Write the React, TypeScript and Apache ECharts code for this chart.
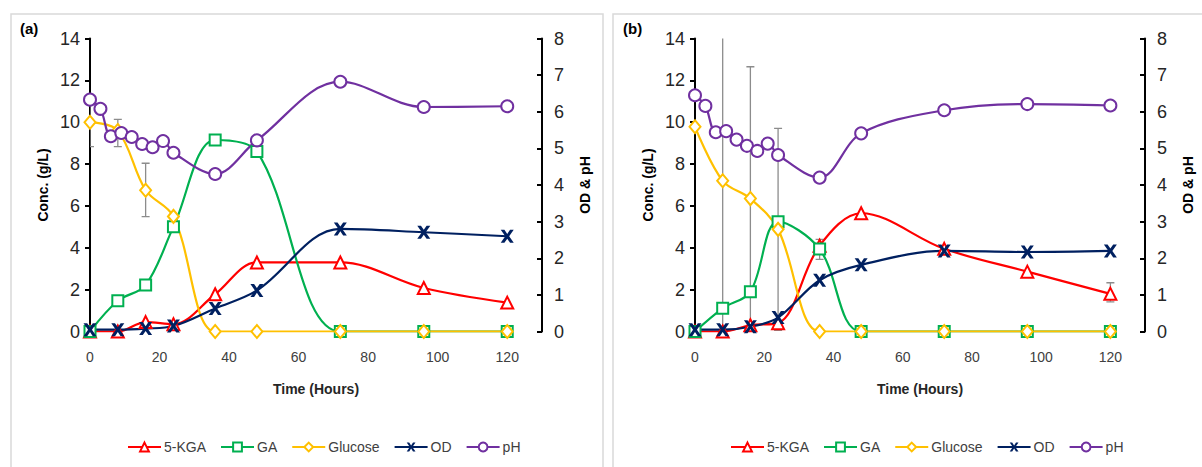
import React, { useEffect, useRef } from "react";
import * as echarts from "echarts";

// ---- data ----
const hours = [0, 8, 16, 24, 36, 48, 72, 96, 120];
const phHours = [0, 3, 6, 9, 12, 15, 18, 21, 24, 36, 48, 72, 96, 120];
const xTicks = [0, 20, 40, 60, 80, 100, 120];

// Panel (a)
const kgaA = [0, 0, 0.45, 0.35, 1.78, 3.3, 3.3, 2.08, 1.38];
const gaA = [0, 1.47, 2.22, 5.0, 9.15, 8.6, 0, 0, 0];
const gluA = [10.0, 9.6, 6.75, 5.5, 0, 0, 0, 0, 0];
const odA = [0.05, 0.05, 0.08, 0.15, 0.63, 1.12, 2.8, 2.71, 2.6];
const phA = [6.33, 6.08, 5.33, 5.42, 5.31, 5.12, 5.03, 5.2, 4.88, 4.3, 5.22, 6.82, 6.13, 6.15];
const errA = [
  [0, 8.83, 11.17],
  [8, 8.83, 10.14],
  [16, 5.49, 8.04],
];

// Panel (b)
const kgaB = [0, 0, 0.3, 0.4, 4.1, 5.65, 3.95, 2.86, 1.8];
const gaB = [0, 1.11, 1.9, 5.25, 3.94, 0, 0, 0, 0];
const gluB = [9.78, 7.2, 6.35, 4.88, 0, 0, 0, 0, 0];
const odB = [0.05, 0.05, 0.13, 0.38, 1.4, 1.82, 2.2, 2.17, 2.2];
const phB = [6.45, 6.16, 5.44, 5.47, 5.24, 5.07, 4.93, 5.13, 4.82, 4.2, 5.41, 6.04, 6.21, 6.17];
const errB = [
  [8, -0.4, 14.6],
  [16, 0.05, 12.65],
  [24, 0.05, 9.71],
  [36, 3.45, 4.4],
  [120, 1.42, 2.33],
];

const names = ["5-KGA", "GA", "Glucose", "OD", "pH"];
const colors = ["#FF0000", "#00B050", "#FFC000", "#002060", "#7030A0"];
const X_PATH = "path://M0,0L3.4,0L6,3.8L8.6,0L12,0L7.8,6L12,12L8.6,12L6,8.2L3.4,12L0,12L4.2,6Z";

const FONT = "Liberation Sans";

function pair(xs: number[], ys: number[]) {
  return xs.map((x, i) => [x, ys[i]]);
}

function buildSeries(p: number, kga: number[], ga: number[], glu: number[], od: number[], ph: number[], err: number[][]) {
  const xi = p;
  const yl = p * 2;
  const yr = p * 2 + 1;
  const base = (name: string, idx: number, data: number[][], yIndex: number, symbol: string, size: any) => ({
    type: "line",
    name,
    xAxisIndex: xi,
    yAxisIndex: yIndex,
    data,
    smooth: 0.35,
    symbol,
    symbolSize: size,
    showAllSymbol: true,
    lineStyle: { color: colors[idx], width: 2.2 },
    itemStyle:
      name === "OD"
        ? { color: colors[idx], borderWidth: 0 }
        : { color: "#ffffff", borderColor: colors[idx], borderWidth: 2 },
    emphasis: { disabled: true },
    z: 3,
  });
  return [
    {
      type: "custom",
      xAxisIndex: xi,
      yAxisIndex: yl,
      data: err,
      clip: true,
      z: 1,
      silent: true,
      encode: { x: 0, y: [1, 2] },
      renderItem: (params: any, api: any) => {
        const x = api.value(0);
        const lo = api.value(1);
        const hi = api.value(2);
        const p1 = api.coord([x, lo]);
        const p2 = api.coord([x, hi]);
        const w = 4;
        const style = { stroke: "#8c8c8c", lineWidth: 1.3 };
        return {
          type: "group",
          children: [
            { type: "line", shape: { x1: p1[0], y1: p1[1], x2: p2[0], y2: p2[1] }, style },
            { type: "line", shape: { x1: p1[0] - w, y1: p1[1], x2: p1[0] + w, y2: p1[1] }, style },
            { type: "line", shape: { x1: p2[0] - w, y1: p2[1], x2: p2[0] + w, y2: p2[1] }, style },
          ],
        };
      },
    },
    base("5-KGA", 0, pair(hours, kga), yl, "triangle", 12),
    base("GA", 1, pair(hours, ga), yl, "rect", 11),
    base("Glucose", 2, pair(hours, glu), yl, "diamond", [11, 13]),
    base("OD", 3, pair(hours, od), yr, X_PATH, 13),
    base("pH", 4, pair(phHours, ph), yr, "circle", 12),
  ];
}

const labelStyle = { color: "#262626", fontFamily: FONT, fontSize: 18 };

function xAxis(grid: number) {
  return {
    type: "value",
    gridIndex: grid,
    min: 0,
    max: 130,
    interval: 20,
    name: "Time (Hours)",
    nameLocation: "middle",
    nameGap: 50,
    nameTextStyle: { fontFamily: FONT, fontWeight: "bold", fontSize: 14, color: "#262626" },
    axisLine: { show: false },
    axisTick: { show: false },
    splitLine: { show: false },
    axisLabel: {
      margin: 18,
      fontFamily: FONT,
      fontSize: 14,
      color: "#404040",
      formatter: (v: number) => (xTicks.indexOf(v) >= 0 ? String(v) : ""),
    },
  };
}

function yLeft(grid: number) {
  return {
    type: "value",
    gridIndex: grid,
    position: "left",
    min: 0,
    max: 14,
    interval: 2,
    name: "Conc. (g/L)",
    nameLocation: "middle",
    nameRotate: 90,
    nameGap: 40,
    nameTextStyle: { fontFamily: FONT, fontWeight: "bold", fontSize: 14, color: "#000" },
    axisLine: { show: true, lineStyle: { color: "#000", width: 2 } },
    axisTick: { show: true, length: 5, lineStyle: { color: "#000", width: 2 } },
    splitLine: { show: false },
    axisLabel: { ...labelStyle, margin: 10 },
  };
}

function yRight(grid: number) {
  return {
    type: "value",
    gridIndex: grid,
    position: "right",
    min: 0,
    max: 8,
    interval: 1,
    name: "OD & pH",
    nameLocation: "middle",
    nameRotate: 90,
    nameGap: 36,
    nameTextStyle: { fontFamily: FONT, fontWeight: "bold", fontSize: 14, color: "#000" },
    axisLine: { show: true, lineStyle: { color: "#000", width: 2 } },
    axisTick: { show: true, inside: true, length: 5, lineStyle: { color: "#000", width: 2 } },
    splitLine: { show: false },
    axisLabel: { ...labelStyle, margin: 12 },
  };
}

function legend(left: number) {
  return {
    data: names,
    left,
    top: 435,
    itemWidth: 33,
    itemHeight: 11,
    itemGap: 14,
    selectedMode: false,
    textStyle: { fontFamily: FONT, fontSize: 14, color: "#404040", padding: [0, 0, 0, -2] },
  };
}

export default function App() {
  const ref = useRef<HTMLDivElement>(null);
  useEffect(() => {
    if (!ref.current) return;
    const chart = echarts.init(ref.current, undefined, { renderer: "svg" });
    chart.setOption({
      animation: false,
      backgroundColor: "#ffffff",
      grid: [
        { left: 90, top: 38.5, width: 452, height: 293 },
        { left: 695, top: 38.5, width: 450, height: 293 },
      ],
      xAxis: [xAxis(0), xAxis(1)],
      yAxis: [yLeft(0), yRight(0), yLeft(1), yRight(1)],
      legend: [legend(122), legend(725)],
      graphic: [
        { type: "rect", shape: { x: 11, y: 14, width: 592, height: 470 }, style: { fill: "none", stroke: "#d9d9d9", lineWidth: 1.5 }, z: -1 },
        { type: "rect", shape: { x: 613, y: 14, width: 600, height: 470 }, style: { fill: "none", stroke: "#d9d9d9", lineWidth: 1.5 }, z: -1 },
        { type: "text", left: 20, top: 21, style: { text: "(a)", font: "bold 15px 'Liberation Sans'", fill: "#000" } },
        { type: "text", left: 623, top: 21, style: { text: "(b)", font: "bold 15px 'Liberation Sans'", fill: "#000" } },
      ],
      series: [
        ...buildSeries(0, kgaA, gaA, gluA, odA, phA, errA),
        ...buildSeries(1, kgaB, gaB, gluB, odB, phB, errB),
      ],
    });
    return () => chart.dispose();
  }, []);
  return (
    <div
      ref={ref}
      style={{ position: "fixed", left: 0, top: 0, width: 1202, height: 467, background: "#fff" }}
    />
  );
}
